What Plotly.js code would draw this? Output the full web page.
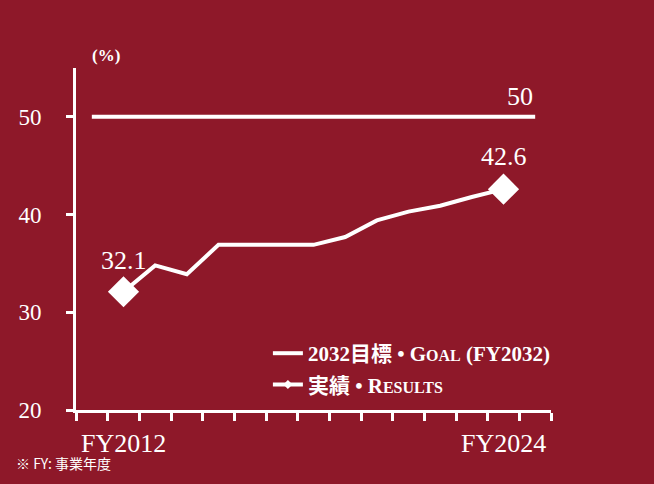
<!DOCTYPE html>
<html>
<head>
<meta charset="utf-8">
<script src="https://cdn.plot.ly/plotly-3.0.1.min.js"></script>
<style>html,body{margin:0;padding:0;background:#8e1829;}#chart{width:654px;height:484px;}</style>
</head>
<body>
<div id="chart"></div>
<script>
// ---- data ----
const years = [2012, 2013, 2014, 2015, 2016, 2017, 2018, 2019, 2020, 2021, 2022, 2023, 2024];
const results = [32.1, 34.8, 33.9, 36.9, 36.9, 36.9, 36.9, 37.7, 39.4, 40.3, 40.9, 41.8, 42.6];
const goalYears = [2011, 2025];
const goalValues = [50, 50];
const xLabelYears = [2012, 2024];
const xLabelText = ['FY2012', 'FY2024'];
const yTicks = [20, 30, 40, 50];

const serif = 'Liberation Serif, Noto Sans CJK JP, serif';
const white = '#ffffff';
const bg = '#8e1829';

const endIdx = [0, results.length - 1];
const endX = endIdx.map(i => years[i]);
const endY = endIdx.map(i => results[i]);

const traces = [
  {
    x: goalYears, y: goalValues, mode: 'lines', type: 'scatter',
    line: {color: white, width: 4},
    name: '2032目標 • G<span style="font-size:16px">OAL</span> (FY2032)',
    legendgroup: 'g1', hoverinfo: 'skip'
  },
  {
    x: years, y: results, mode: 'lines', type: 'scatter',
    line: {color: white, width: 4},
    showlegend: false, legendgroup: 'g2', hoverinfo: 'skip'
  },
  {
    x: endX, y: endY, mode: 'markers', type: 'scatter',
    marker: {symbol: 'diamond', size: 24, color: white},
    showlegend: false, legendgroup: 'g2', hoverinfo: 'skip'
  },
  {
    x: [null], y: [null], mode: 'lines+markers', type: 'scatter',
    line: {color: white, width: 4},
    marker: {symbol: 'diamond', size: 7, color: white},
    name: '実績 • R<span style="font-size:16px">ESULTS</span>',
    legendgroup: 'g2', hoverinfo: 'skip'
  }
];

const annotations = [];
xLabelYears.forEach((yr, i) => {
  annotations.push({x: yr, xref: 'x', y: 0, yref: 'paper', yanchor: 'middle', yshift: -33,
    text: xLabelText[i], showarrow: false, font: {family: serif, size: 26, color: white}});
});
annotations.push({x: endX[0], y: endY[0], xref: 'x', yref: 'y', text: String(endY[0]), showarrow: false,
  yshift: 31, font: {family: serif, size: 26, color: white}});
annotations.push({x: endX[1], y: endY[1], xref: 'x', yref: 'y', text: String(endY[1]), showarrow: false,
  yshift: 33, font: {family: serif, size: 26, color: white}});
annotations.push({x: goalYears[1], y: goalValues[1], xref: 'x', yref: 'y', text: String(goalValues[1]), showarrow: false,
  xanchor: 'right', yshift: 20, font: {family: serif, size: 26, color: white}});
annotations.push({x: 0.029, xref: 'paper', y: 1, yref: 'paper', yanchor: 'middle', yshift: 13,
  text: '<b>(%)</b>', showarrow: false, font: {family: serif, size: 17, color: white}});
annotations.push({x: (14 - 76) / 475, xref: 'paper', xanchor: 'left', y: 0, yref: 'paper', yanchor: 'middle', yshift: -53,
  text: '※ FY: 事業年度', showarrow: false, font: {family: 'Noto Sans CJK JP, sans-serif', size: 14, color: white}});

const layout = {
  width: 654, height: 484,
  margin: {l: 76, r: 103, t: 68, b: 74},
  paper_bgcolor: bg, plot_bgcolor: bg,
  showlegend: true,
  legend: {x: 0.404, xanchor: 'left', y: 0.225, yanchor: 'top', bgcolor: 'rgba(0,0,0,0)',
    traceorder: 'grouped', tracegroupgap: 1,
    font: {family: serif, size: 21, color: white, weight: 'bold'}},
  xaxis: {
    range: [2010.5, 2025.5], tickmode: 'linear', tick0: 2010.5, dtick: 1,
    showticklabels: false, ticks: 'outside', ticklen: 8, tickwidth: 3, tickcolor: white,
    showline: true, linecolor: white, linewidth: 3, showgrid: false, zeroline: false, fixedrange: true
  },
  yaxis: {
    range: [20, 55], tickmode: 'array', tickvals: yTicks,
    ticks: 'outside', ticklen: 7, tickwidth: 3, tickcolor: white, ticklabelstandoff: 20,
    tickfont: {family: serif, size: 23, color: white},
    showline: true, linecolor: white, linewidth: 3, showgrid: false, zeroline: false, fixedrange: true
  },
  annotations: annotations
};

Plotly.newPlot('chart', traces, layout, {displayModeBar: false, staticPlot: true});
</script>
</body>
</html>
